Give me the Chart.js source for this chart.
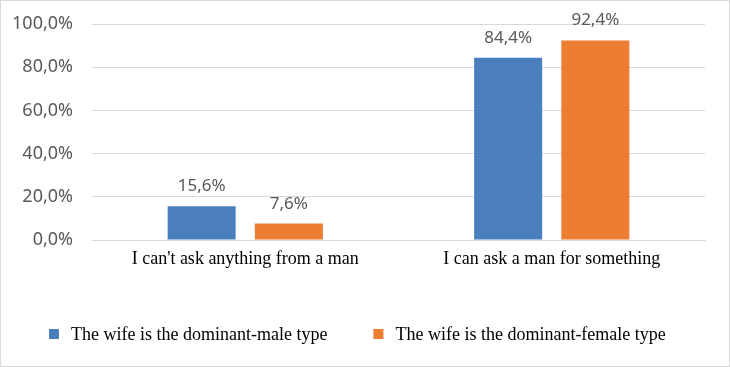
<!DOCTYPE html>
<html>
<head>
<meta charset="utf-8">
<script src="https://cdn.jsdelivr.net/npm/chart.js@4.4.1/dist/chart.umd.min.js"></script>
<style>
  html, body { margin: 0; padding: 0; background: #fff; }
  #wrap { position: relative; width: 730px; height: 367px; }
</style>
</head>
<body>
<div id="wrap"><canvas id="chart" width="730" height="367"></canvas></div>
<script>
// chart data
const categories = ["I can't ask anything from a man", 'I can ask a man for something'];
const seriesNames = ['The wife is the dominant-male type', 'The wife is the dominant-female type'];
const maleType = [15.6, 84.4];
const femaleType = [7.6, 92.4];
const seriesColors = ['#4a7ebd', '#ed7d31'];

const serif = '"Liberation Serif", "Times New Roman", serif';
const sans = '"Noto Sans", "Open Sans", sans-serif';

function pct(v, digits) {
    return v.toFixed(digits).replace('.', ',') + '%';
}

// draws value labels above bars
const valueLabels = {
    id: 'valueLabels',
    afterDatasetsDraw(chart) {
        const ctx = chart.ctx;
        ctx.save();
        ctx.font = '17px ' + sans;
        ctx.fillStyle = '#595959';
        ctx.textAlign = 'center';
        ctx.textBaseline = 'alphabetic';
        chart.data.datasets.forEach((ds, i) => {
            chart.getDatasetMeta(i).data.forEach((bar, j) => {
                ctx.fillText(pct(ds.data[j], 1), bar.x, bar.y - 15);
            });
        });
        ctx.restore();
    }
};

// legend at bottom left + outer border
const bottomLegend = {
    id: 'bottomLegend',
    afterDraw(chart) {
        const ctx = chart.ctx;
        ctx.save();
        ctx.font = '18px ' + serif;
        ctx.textBaseline = 'middle';
        let x = 49;
        const y = 335;
        chart.data.datasets.forEach((ds) => {
            ctx.fillStyle = ds.backgroundColor;
            ctx.fillRect(x, y - 6, 10, 10);
            ctx.fillStyle = '#000';
            const tx = x + 22;
            ctx.fillText(ds.label, tx, y);
            x = tx + ctx.measureText(ds.label).width + 46;
        });
        ctx.strokeStyle = '#d9d9d9';
        ctx.lineWidth = 1;
        ctx.strokeRect(0.5, 0.5, chart.width - 1, chart.height - 1);
        ctx.restore();
    }
};

const ctx = document.getElementById('chart').getContext('2d');
new Chart(ctx, {
    type: 'bar',
    data: {
        labels: categories,
        datasets: [
            { label: seriesNames[0], data: maleType, backgroundColor: seriesColors[0] },
            { label: seriesNames[1], data: femaleType, backgroundColor: seriesColors[1] }
        ]
    },
    options: {
        responsive: false,
        animation: false,
        layout: { padding: { top: 24, right: 25, bottom: 0, left: 0 } },
        categoryPercentage: 0.569,
        barPercentage: 0.78,
        scales: {
            y: {
                min: 0,
                max: 100,
                ticks: {
                    stepSize: 20,
                    padding: 19,
                    color: '#595959',
                    font: { family: sans, size: 18 },
                    callback: (v) => pct(v, 1)
                },
                grid: { color: '#d9d9d9', drawTicks: false },
                border: { display: false },
                afterFit: (s) => {
                    s.width = 92;
                    // tick padding is horizontal only here, keep it out of the top/bottom room
                    s.paddingTop = 12;
                    s.paddingBottom = 12;
                }
            },
            x: {
                ticks: {
                    padding: 8,
                    color: '#000',
                    font: { family: serif, size: 18 },
                    maxRotation: 0
                },
                grid: { display: false, drawTicks: false },
                border: { color: '#d9d9d9' },
                afterFit: (s) => { s.height = 127; }
            }
        },
        plugins: {
            legend: { display: false },
            tooltip: { enabled: false }
        }
    },
    plugins: [valueLabels, bottomLegend]
});
</script>
</body>
</html>
